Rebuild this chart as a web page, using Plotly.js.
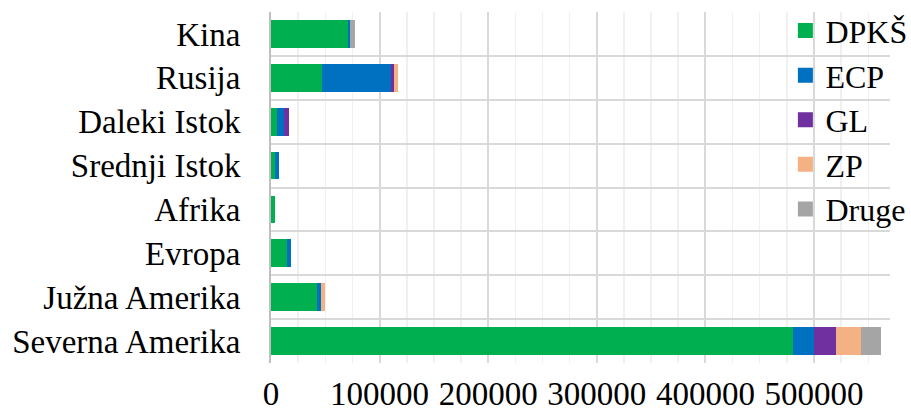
<!DOCTYPE html>
<html>
<head>
<meta charset="utf-8">
<script src="https://cdn.plot.ly/plotly-3.0.1.min.js"></script>
<style>html,body{margin:0;padding:0;background:#fff;}#chart{width:911px;height:415px;}</style>
</head>
<body>
<div id="chart"></div>
<script>
const categories = ["Kina", "Rusija", "Daleki Istok", "Srednji Istok", "Afrika", "Evropa", "Južna Amerika", "Severna Amerika"];
const seriesNames = ["DPKŠ", "ECP", "GL", "ZP", "Druge"];
const dpks  = [71100, 46600, 5800, 3400, 3700, 15000, 42600, 480500];
const ecp   = [1500, 63500, 6400, 4000, 0, 3400, 3400, 19300];
const gl    = [0, 3400, 4600, 0, 0, 0, 0, 20900];
const zp    = [0, 3100, 0, 0, 0, 0, 3400, 22700];
const druge = [4600, 0, 0, 0, 0, 0, 0, 18700];
const xTickVals = [0, 100000, 200000, 300000, 400000, 500000];

const colors = ["#00b050", "#0070c0", "#7030a0", "#f4b183", "#a5a5a5"];
const values = [dpks, ecp, gl, zp, druge];

const traces = values.map((v, i) => ({
  type: "bar",
  orientation: "h",
  name: seriesNames[i],
  x: v,
  y: categories,
  marker: { color: colors[i] },
  showlegend: false,
  hoverinfo: "x+y+name"
}));
// legend entries (empty data) with a slightly larger swatch
values.forEach((v, i) => {
  traces.push({
    type: "bar",
    orientation: "h",
    name: seriesNames[i],
    x: [null],
    y: [categories[0]],
    marker: { color: colors[i], line: { color: colors[i], width: 3 } },
    showlegend: true,
    hoverinfo: "skip"
  });
});

const font = "Liberation Serif, Times New Roman, serif";

const layout = {
  width: 911,
  height: 415,
  margin: { l: 271, r: 21, t: 12, b: 52, autoexpand: false },
  paper_bgcolor: "#ffffff",
  plot_bgcolor: "#ffffff",
  barmode: "stack",
  bargap: 0.37,
  font: { family: font, color: "#000000" },
  xaxis: {
    range: [0, 570000],
    tickvals: xTickVals,
    tickformat: "d",
    tickfont: { family: font, size: 33, color: "#000" },
    ticklabelstandoff: 8,
    showgrid: true,
    gridcolor: "#d9d9d9",
    gridwidth: 2,
    zeroline: false,
    showline: false,
    ticks: "",
    minor: { dtick: 25000, tick0: 0, showgrid: true, gridcolor: "#f0f0f0", gridwidth: 1.5 },
    fixedrange: true
  },
  yaxis: {
    type: "category",
    autorange: "reversed",
    tickson: "boundaries",
    showgrid: true,
    gridcolor: "#d9d9d9",
    gridwidth: 2,
    showline: true,
    linecolor: "#bfbfbf",
    linewidth: 2,
    ticks: "",
    tickfont: { family: font, size: 33, color: "#000" },
    ticklabelstandoff: 22,
    fixedrange: true
  },
  legend: {
    x: 0.831,
    xanchor: "left",
    y: 1.025,
    yanchor: "top",
    maxheight: 400,
    bgcolor: "rgba(0,0,0,0)",
    font: { family: font, size: 32, color: "#000" },
    traceorder: "normal"
  },
  showlegend: true
};

Plotly.newPlot("chart", traces, layout, { displayModeBar: false, staticPlot: true });
</script>
</body>
</html>
